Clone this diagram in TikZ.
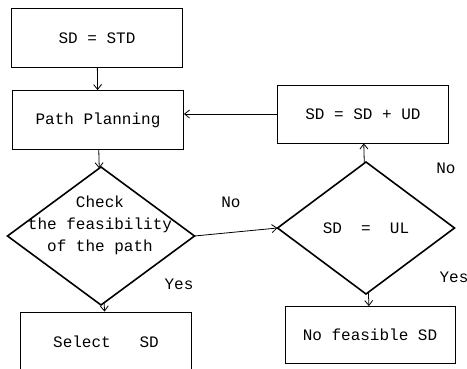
\documentclass[tikz,border=0pt]{standalone}
\usepackage{fontspec}
\setmonofont{Liberation Mono}
\usetikzlibrary{shapes.geometric,arrows.meta}

\begin{document}
\begin{tikzpicture}[x=1pt,y=-1pt,
        font=\ttfamily\fontsize{16}{22}\selectfont,
        box/.style={draw,line width=0.8pt,minimum width=171pt,minimum height=59pt,inner sep=0pt},
        decision/.style={diamond,draw,line width=1.6pt,inner sep=0pt,outer sep=0pt},
        flow/.style={line width=0.8pt,-{Straight Barb[length=5pt,width=8pt]}}]
            \useasboundingbox (0,0) rectangle (467,368);

            \node (start) at (97,38) [box] {SD = STD};
            \node (plan) at (98,120) [box] {Path Planning};
            \node (check) at (101,236) [decision,minimum width=187pt,minimum height=138pt] {};
            \node (checktext) at (100,225) [align=center] {Check\\the feasibility\\of the path};
            \node (select) at (106,342) [box,minimum height=60pt] {Select\ \ \ SD};

            \node (ul) at (366,228) [decision,minimum width=177pt,minimum height=132pt] {SD\ \ =\ \ UL};
            \node (update) at (363,114) [box,minimum height=58pt] {SD = SD + UD};
            \node (nofeas) at (370,335) [box,minimum width=170pt,minimum height=57pt] {No feasible SD};

            \node (no1) at (231,202) {No};
            \node (yes1) at (179,284) {Yes};
            \node (no2) at (446,168) {No};
            \node (yes2) at (454,277) {Yes};

            \draw [flow] (start) -- (plan);
            \draw [flow] (plan) -- (check);
            \draw [flow] (check) -- (select);
            \draw [flow] (check.east) -- (ul.west);
            \draw [flow] (ul) -- (update);
            \draw [flow] (ul) -- (nofeas);
            \draw [flow] (update.west) -- (update.west -| plan.east);

        \end{tikzpicture}
\end{document}
